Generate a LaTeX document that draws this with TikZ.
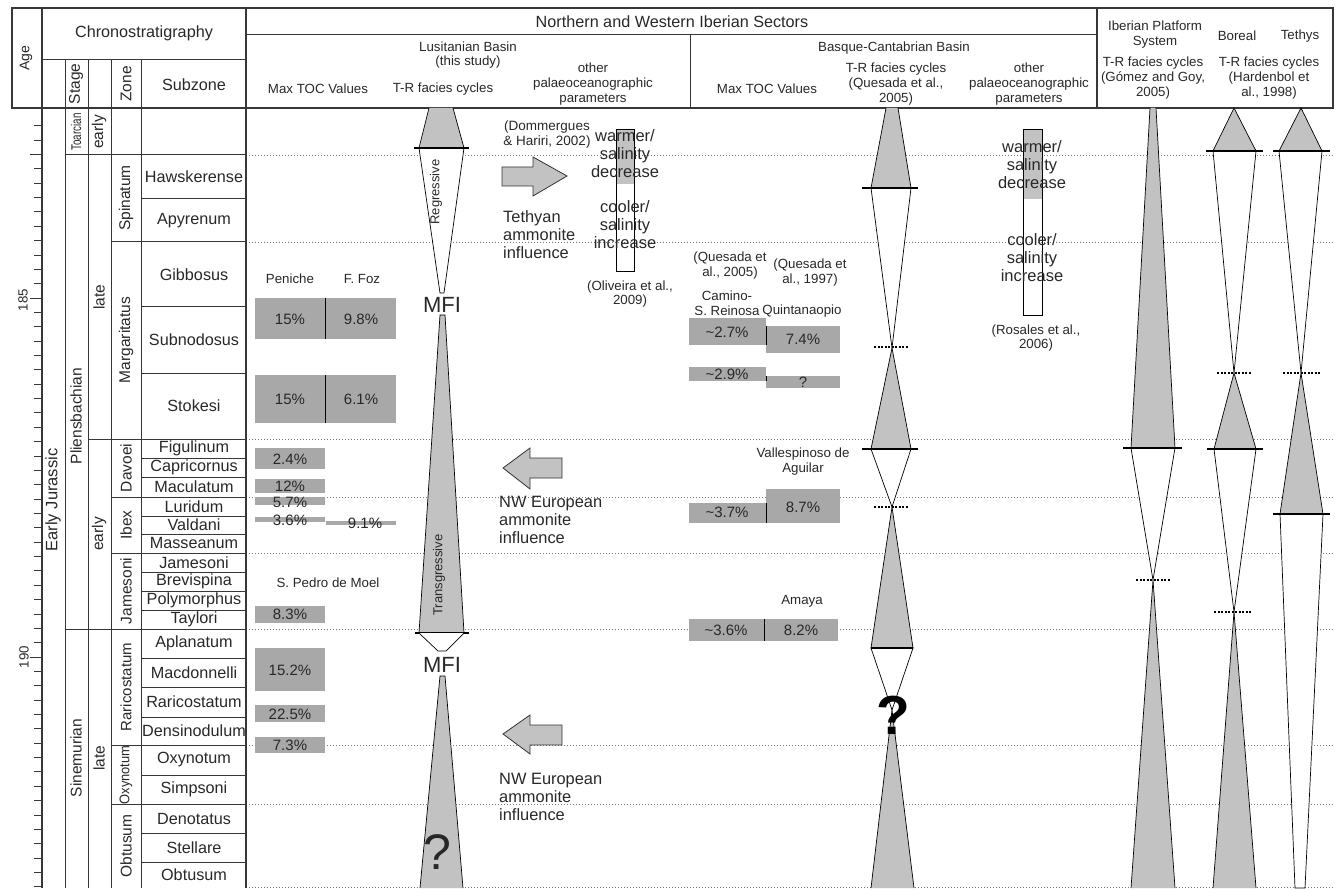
\documentclass[tikz,border=0pt]{standalone}
\usepackage{fontspec}
\setmainfont{Liberation Sans}
\usetikzlibrary{positioning}
\definecolor{trigrey}{RGB}{194,194,194}
\definecolor{tocgrey}{RGB}{168,168,168}
\definecolor{linegrey}{RGB}{55,55,55}
\definecolor{dotgrey}{RGB}{120,120,120}
\definecolor{txtgrey}{RGB}{40,40,40}

\begin{document}
\begin{tikzpicture}[x=1pt, y=-1pt,
  every node/.style={inner sep=0pt, text=txtgrey},
  hdr/.style={font=\fontsize{13.3}{14.8}\selectfont, align=center},
  lab/.style={font=\fontsize{16.2}{18}\selectfont, align=center},
  zonelab/.style={font=\fontsize{15.5}{17}\selectfont, rotate=90},
  toc/.style={font=\fontsize{15}{17}\selectfont},
  tocbox/.style={fill=tocgrey},
  rule/.style={line width=1pt, draw=linegrey},
  frame/.style={line width=1.2pt, draw=linegrey},
  dotline/.style={dotgrey, line width=0.8pt, dash pattern=on 1.2pt off 1.8pt},
  shortdot/.style={black, line width=1.2pt, dash pattern=on 2pt off 1.5pt},
  tr/.style={draw=black, line width=0.7pt, fill=trigrey},
  trw/.style={draw=black, line width=0.7pt, fill=white},
  mfs/.style={line width=2pt, black},
  blockarrow/.style={draw=black!80, line width=0.8pt, fill=trigrey}]
  \useasboundingbox (0,0) rectangle (1335,890);

  % Zone boundaries
  \foreach \y in {155,242,439,497,553,629,745,804,887}
    \draw[dotline] (246,\y) -- (1333,\y);

  % Header frame
  \draw[frame] (12,8) -- (1333,8) -- (1333,108) -- (12,108) -- cycle;
  \draw[frame] (42,8) -- (42,888);
  \draw[frame] (246,8) -- (246,888);
  \draw[rule] (42,60) -- (246,60);
  \draw[rule] (246,35) -- (1097,35);
  \draw[rule] (690,35) -- (690,108);
  \draw[frame] (1097,8) -- (1097,108);
  \foreach \x in {65,88,111,141}
    \draw[rule] (\x,60) -- (\x,888);

  % Chronostratigraphy
  \draw[rule] (65,155) -- (246,155);
  \draw[rule] (88,439) -- (246,439);
  \draw[rule] (65,629) -- (246,629);
  \foreach \y in {242,497,553,745,804}
    \draw[rule] (111,\y) -- (246,\y);
  \foreach \y in {199,307,373,458,477,516,534,572,591,610,658,687,717,775,833,862}
    \draw[rule] (141,\y) -- (246,\y);

  % Age axis
  \foreach \i in {-12,...,41}
    \draw[rule, line width=0.8pt] (34,298+14.36*\i) -- (42,298+14.36*\i);
  \foreach \i in {-10,0,25}
    \draw[rule, line width=0.8pt] (30,298+14.36*\i) -- (42,298+14.36*\i);
  \node[hdr, rotate=90] (age185) at (23,300) {185};
  \node[hdr, rotate=90] (age190) at (24,657) {190};

  \node[hdr, font=\fontsize{14}{16}\selectfont, rotate=90] (agehdr) at (26,58) {Age};
  \node[lab] (chrono) at (144,33) {Chronostratigraphy};
  \node[zonelab] (stagehdr) at (76,84) {Stage};
  \node[zonelab] (zonehdr) at (126,84) {Zone};
  \node[lab] (subzhdr) at (194,85) {Subzone};

  \node[lab, font=\fontsize{16.5}{18}\selectfont, rotate=90] (ejur) at (53,500) {Early Jurassic};
  \node[zonelab, font=\fontsize{14}{16}\selectfont] (toarc) at (76,132) {\scalebox{0.7}[1]{Toarcian}};
  \node[zonelab] (plien) at (76,416) {Pliensbachian};
  \node[zonelab] (sinem) at (76,758) {Sinemurian};
  \node[zonelab] (early1) at (99,132) {early};
  \node[zonelab] (late1) at (99,297) {late};
  \node[zonelab] (early2) at (99,534) {early};
  \node[zonelab] (late2) at (99,758) {late};

  \node[zonelab] (spin) at (126,198) {Spinatum};
  \node[zonelab] (marg) at (126,340) {Margaritatus};
  \node[zonelab] (davo) at (126,468) {Davoei};
  \node[zonelab] (ibex) at (126,525) {Ibex};
  \node[zonelab] (jame) at (126,591) {Jamesoni};
  \node[zonelab, font=\fontsize{15}{17}\selectfont] (rari) at (126,687) {Raricostatum};
  \node[zonelab, font=\fontsize{14}{16}\selectfont] (oxyn) at (126,775) {\scalebox{0.92}[1]{Oxynotum}};
  \node[zonelab] (obtu) at (126,846) {Obtusum};

  \foreach \y/\name [count=\k] in {177/Hawskerense, 220.5/Apyrenum, 274.5/Gibbosus,
      340/Subnodosus, 406/Stokesi, 448.5/Figulinum, 467.5/Capricornus, 487/Maculatum,
      506.5/Luridum, 525/Valdani, 543.5/Masseanum, 562.5/Jamesoni, 581.5/Brevispina,
      600.5/Polymorphus, 619.5/Taylori, 643.5/Aplanatum, 672.5/Macdonnelli,
      702/Raricostatum, 731/Densinodulum, 760/Oxynotum, 789.5/Simpsoni,
      818.5/Denotatus, 847.5/Stellare, 875/Obtusum}
    \node[lab] (subz\k) at (194,\y) {\name};

  % Headers
  \node[lab] (nwis) at (672,22) {Northern and Western Iberian Sectors};
  \node[hdr] (lusit) at (468,55) {Lusitanian Basin\\(this study)};
  \node[hdr] (lusittoc) at (318,89) {Max TOC Values};
  \node[hdr] (lusittr) at (443,89) {T-R facies cycles};
  \node[hdr] (lusitpal) at (593,84) {other\\palaeoceanographic\\parameters};
  \node[hdr] (basque) at (894,48) {Basque-Cantabrian Basin};
  \node[hdr] (basquetoc) at (767,89) {Max TOC Values};
  \node[hdr] (basquetr) at (896,84) {T-R facies cycles\\(Quesada et al.,\\2005)};
  \node[hdr] (basquepal) at (1029,84) {other\\palaeoceanographic\\parameters};
  \node[hdr] (iberian) at (1155,34.5) {Iberian Platform\\System};
  \node[hdr] (iberiantr) at (1153,78) {T-R facies cycles\\(Gómez and Goy,\\2005)};
  \node[hdr] (boreal) at (1237,36) {Boreal};
  \node[hdr] (tethys) at (1300,36) {Tethys};
  \node[hdr] (hardtr) at (1269,78) {T-R facies cycles\\(Hardenbol et\\al., 1998)};

  % Lusitanian Basin: TOC
  \node[hdr] (peniche) at (290,279) {Peniche};
  \node[hdr] (ffoz) at (362,279) {F. Foz};
  \fill[tocbox] (255,298) rectangle (396,339);
  \draw[black, line width=0.7pt] (325,298) -- (325,339);
  \node[toc] (tocA) at (290,319) {15\%};
  \node[toc] (tocB) at (361,319) {9.8\%};
  \fill[tocbox] (255,375) rectangle (396,423);
  \draw[black, line width=0.7pt] (325,375) -- (325,423);
  \node[toc] (tocC) at (290,399) {15\%};
  \node[toc] (tocD) at (361,399) {6.1\%};
  \fill[tocbox] (255,448) rectangle (325,469);
  \node[toc] (tocE) at (290,459) {2.4\%};
  \fill[tocbox] (255,479) rectangle (325,493);
  \node[toc] (tocF) at (290,486) {12\%};
  \fill[tocbox] (255,497) rectangle (325,505);
  \node[toc] (tocG) at (290,502) {5.7\%};
  \fill[tocbox] (255,517) rectangle (325,522);
  \node[toc] (tocH) at (290,520) {3.6\%};
  \fill[tocbox] (326,521) rectangle (396,525);
  \node[toc] (tocI) at (365,523) {9.1\%};
  \node[hdr] (pedro) at (328,583) {S. Pedro de Moel};
  \fill[tocbox] (255,606) rectangle (325,623);
  \node[toc] (tocJ) at (290,614) {8.3\%};
  \fill[tocbox] (255,648) rectangle (325,691);
  \node[toc] (tocK) at (290,670) {15.2\%};
  \fill[tocbox] (255,705) rectangle (325,722);
  \node[toc] (tocL) at (290,714) {22.5\%};
  \fill[tocbox] (255,737) rectangle (325,753);
  \node[toc] (tocM) at (290,745) {7.3\%};

  % Lusitanian Basin: T-R facies cycles
  \draw[tr] (429,108) -- (419,148) -- (464,148) -- (453,108);
  \draw[trw] (419,148) -- (464,148) -- (444,293) -- (440,293) -- cycle;
  \draw[mfs] (414,148) -- (469,148);
  \node[hdr, font=\fontsize{13}{15}\selectfont, rotate=90] (regr) at (436,192) {Regressive};
  \node[font=\fontsize{22}{24}\selectfont] (mfi1) at (442,305) {MFI};
  \draw[tr] (440,315) -- (445,315) -- (464,633) -- (419,633) -- cycle;
  \draw[mfs] (415,633) -- (469,633);
  \node[hdr, font=\fontsize{13}{15}\selectfont, rotate=90] (transg) at (439,575) {Transgressive};
  \draw[trw] (419,633) -- (438,651) -- (446,651) -- (464,633);
  \node[font=\fontsize{22}{24}\selectfont] (mfi2) at (442,665) {MFI};
  \draw[tr] (420,888) -- (440,676) -- (445,676) -- (463,888);
  \node[font=\fontsize{50}{52}\selectfont] (quest1) at (437,852) {?};

  % Lusitanian Basin: ammonites and palaeoceanography
  \draw[blockarrow] (502,167) -- (533,167) -- (533,157) -- (567,176) -- (533,196) -- (533,186) -- (502,186) -- cycle;
  \node[hdr, font=\fontsize{13.5}{15}\selectfont] (domm) at (547,134.5) {(Dommergues\\\& Hariri, 2002)};
  \node[lab, font=\fontsize{16.4}{18}\selectfont, align=left, anchor=west] (tethinf) at (503,235) {Tethyan\\ammonite\\influence};
  \draw[blockarrow] (562,458) -- (530,458) -- (530,448) -- (503,468) -- (530,489) -- (530,478) -- (562,478) -- cycle;
  \node[lab, font=\fontsize{16.4}{18}\selectfont, align=left, anchor=west] (nweA) at (499,520) {NW European\\ammonite\\influence};
  \draw[blockarrow] (562,725) -- (530,725) -- (530,715) -- (503,734) -- (530,754) -- (530,745) -- (562,745) -- cycle;
  \node[lab, font=\fontsize{16.4}{18}\selectfont, align=left, anchor=west] (nweB) at (499,797) {NW European\\ammonite\\influence};

  \fill[trigrey] (616,129) rectangle (634,184);
  \draw[black, line width=0.7pt] (616,129) rectangle (634,271);
  \node[lab, font=\fontsize{16.5}{18}\selectfont] (warmA) at (625,154) {warmer/\\salinity\\decrease};
  \node[lab, font=\fontsize{16.5}{18}\selectfont] (coolA) at (625,225) {cooler/\\salinity\\increase};
  \node[hdr] (oliv) at (630,294) {(Oliveira et al.,\\2009)};

  % Basque-Cantabrian Basin: TOC
  \node[hdr] (ques05) at (730,265.5) {(Quesada et\\al., 2005)};
  \node[hdr] (ques97) at (810,272.5) {(Quesada et\\al., 1997)};
  \node[hdr] (camino) at (727,303.5) {Camino-\\S. Reinosa};
  \node[hdr] (quint) at (802,311) {Quintanaopio};
  \fill[tocbox] (689,318) rectangle (766,345);
  \fill[tocbox] (766,326) rectangle (840,353);
  \draw[black, line width=0.6pt] (766,326) -- (766,345);
  \node[toc] (tocN) at (727,332) {\textasciitilde2.7\%};
  \node[toc] (tocO) at (803,339) {7.4\%};
  \fill[tocbox] (689,367) rectangle (766,381);
  \fill[tocbox] (766,376) rectangle (840,388);
  \draw[black, line width=0.6pt] (766,376) -- (766,381);
  \node[toc] (tocP) at (727,374) {\textasciitilde2.9\%};
  \node[toc] (tocQ) at (803,382) {?};
  \node[hdr] (valle) at (803,461.5) {Vallespinoso de\\Aguilar};
  \fill[tocbox] (689,503) rectangle (766,523);
  \fill[tocbox] (766,489) rectangle (840,523);
  \draw[black, line width=0.6pt] (766,503) -- (766,523);
  \node[toc] (tocR) at (727,512) {\textasciitilde3.7\%};
  \node[toc] (tocS) at (803,507) {8.7\%};
  \node[hdr] (amaya) at (802,601) {Amaya};
  \fill[tocbox] (689,619) rectangle (838,641);
  \draw[black, line width=0.6pt] (764,619) -- (764,641);
  \node[toc] (tocT) at (726,630) {\textasciitilde3.6\%};
  \node[toc] (tocU) at (801,630) {8.2\%};

  % Basque-Cantabrian Basin: T-R facies cycles
  \draw[tr] (886,108) -- (871,188) -- (911,188) -- (898,108);
  \draw[trw] (871,188) -- (911,188) -- (892,348) -- cycle;
  \draw[tr] (892,348) -- (911,449) -- (871,449) -- cycle;
  \draw[mfs] (862,188) -- (918,188);
  \draw[shortdot] (874,347) -- (908,347);
  \draw[trw] (871,449) -- (911,449) -- (892,507) -- cycle;
  \draw[tr] (892,507) -- (913,648) -- (871,648) -- cycle;
  \draw[mfs] (862,449) -- (918,449);
  \draw[shortdot] (874,507) -- (908,507);
  \draw[trw] (871,648) -- (913,648) -- (892,710) -- cycle;
  \draw[tr] (871,888) -- (892,710) -- (914,888);
  \draw[mfs] (871,648) -- (913,648);
  \node[font=\fontsize{55}{57}\selectfont\bfseries, text=black] (quest2) at (893,715) {?};

  % Basque-Cantabrian Basin: palaeoceanography
  \fill[trigrey] (1023,129) rectangle (1042,199);
  \draw[black, line width=0.7pt] (1023,129) rectangle (1042,315);
  \node[lab, font=\fontsize{16.5}{18}\selectfont] (warmB) at (1032,165) {warmer/\\salinity\\decrease};
  \node[lab, font=\fontsize{16.5}{18}\selectfont] (coolB) at (1032,258) {cooler/\\salinity\\increase};
  \node[hdr] (rosal) at (1036,338) {(Rosales et al.,\\2006)};

  % Iberian Platform System
  \draw[tr] (1150,108) -- (1131,448) -- (1175,448) -- (1156,108);
  \draw[trw] (1131,448) -- (1175,448) -- (1153,580) -- cycle;
  \draw[mfs] (1123,448) -- (1182,448);
  \draw[shortdot] (1136,580) -- (1170,580);
  \draw[tr] (1131,888) -- (1153,580) -- (1175,888);

  % Boreal
  \draw[tr] (1234,108) -- (1256,151) -- (1213,151) -- cycle;
  \draw[trw] (1213,151) -- (1256,151) -- (1234,373) -- cycle;
  \draw[mfs] (1206,151) -- (1263,151);
  \draw[shortdot] (1217,373) -- (1252,373);
  \draw[tr] (1234,373) -- (1256,449) -- (1214,449) -- cycle;
  \draw[trw] (1214,449) -- (1256,449) -- (1234,612) -- cycle;
  \draw[mfs] (1207,449) -- (1263,449);
  \draw[shortdot] (1214,612) -- (1251,612);
  \draw[tr] (1213,888) -- (1234,612) -- (1256,888);

  % Tethys
  \draw[tr] (1301,108) -- (1322,151) -- (1279,151) -- cycle;
  \draw[trw] (1279,151) -- (1322,151) -- (1301,373) -- cycle;
  \draw[mfs] (1273,151) -- (1330,151);
  \draw[shortdot] (1283,373) -- (1320,373);
  \draw[tr] (1301,373) -- (1323,514) -- (1280,514) -- cycle;
  \draw[trw] (1280,514) -- (1323,514) -- (1305,888) -- (1295,888) -- cycle;
  \draw[mfs] (1273,514) -- (1330,514);
\end{tikzpicture}
\end{document}
